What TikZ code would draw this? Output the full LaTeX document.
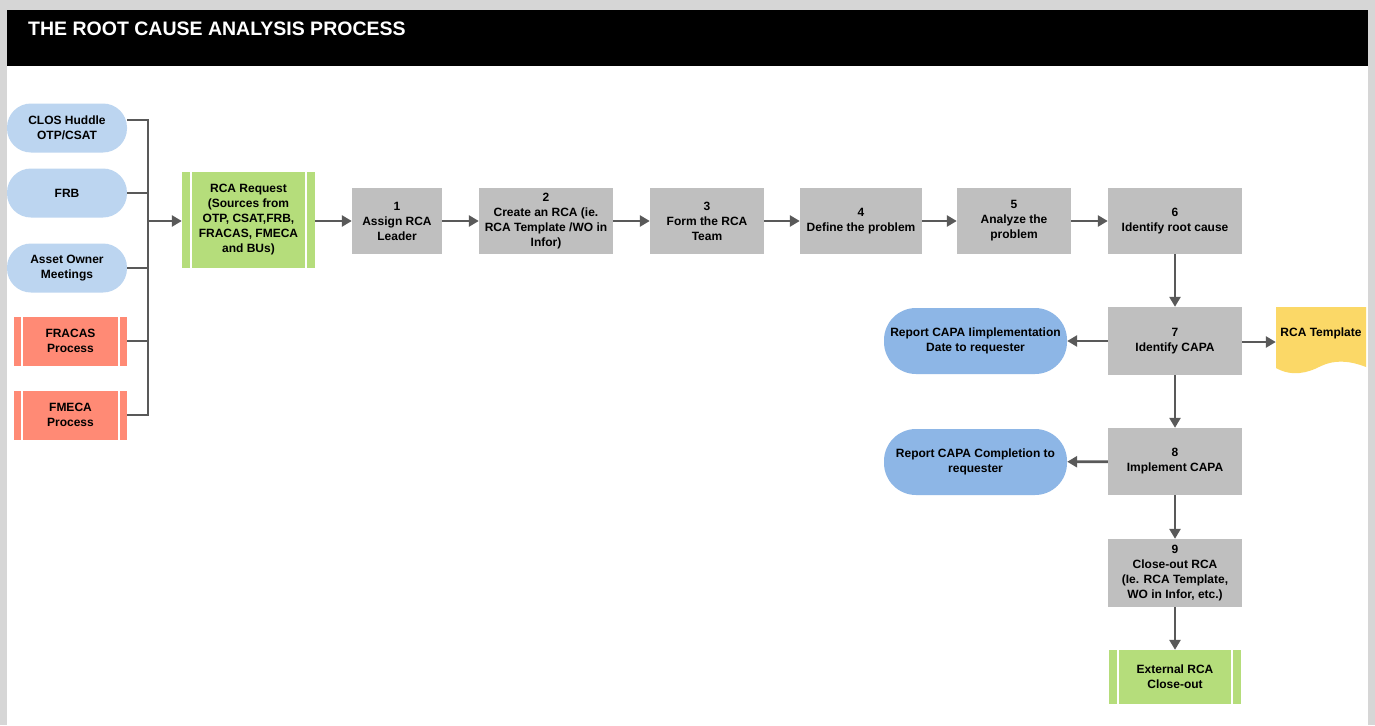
\documentclass[tikz,border=0pt]{standalone}
\usepackage{fontspec}
\setmainfont{Liberation Sans}
\usetikzlibrary{arrows.meta}
\definecolor{shadowgray}{HTML}{D6D6D6}
\definecolor{srcblue}{HTML}{BCD5F0}
\definecolor{srcred}{HTML}{FF8A75}
\definecolor{reqgreen}{HTML}{B5DD7B}
\definecolor{procgray}{HTML}{BFBFBF}
\definecolor{repblue}{HTML}{8DB6E6}
\definecolor{tmplyellow}{HTML}{FBD867}
\definecolor{conncol}{HTML}{595959}
\begin{document}
\begin{tikzpicture}[x=1pt,y=-1pt,
  base/.style={font=\bfseries\fontsize{12}{15}\selectfont, align=center, inner sep=0pt, text=black},
  src/.style={base, fill=srcblue, rounded corners=24pt, minimum width=120pt, minimum height=49pt},
  subproc/.style={base, minimum height=49pt,
    path picture={
      \draw[white, line width=2pt]
        ([xshift=#1]path picture bounding box.north west) -- ([xshift=#1]path picture bounding box.south west)
        ([xshift=-#1]path picture bounding box.north east) -- ([xshift=-#1]path picture bounding box.south east);}},
  proc/.style={base, fill=procgray, minimum height=66pt},
  report/.style={base, fill=repblue, rounded corners=32pt, minimum width=183pt, minimum height=66pt},
  conn/.style={draw=conncol, line width=2.8pt},
  arr/.style={conn, -{Triangle[length=10pt,width=11pt]}}
]
\useasboundingbox (0,0) rectangle (1375,725);
% page, shadow and header
\fill[shadowgray] (0,0) rectangle (1375,725);
\fill[white] (7,10) rectangle (1368,725);
\fill[black] (7,10) rectangle (1368,66);
\node[anchor=base west, inner sep=0pt, text=white, font=\bfseries\fontsize{19.5}{22}\selectfont] (title) at (28,36) {THE ROOT CAUSE ANALYSIS PROCESS};

% sources
\node[src] (clos) at (67,128) {CLOS Huddle\\OTP/CSAT};
\node[src] (frb) at (67,193) {FRB};
\node[src] (asset) at (67,268) {Asset Owner\\Meetings};
\node[subproc=8pt, fill=srcred, minimum width=113pt] (fracas) at (70.5,341) {FRACAS\\Process};
\node[subproc=8pt, fill=srcred, minimum width=113pt] (fmeca) at (70.5,415) {FMECA\\Process};

% RCA request
\node[subproc=9pt, fill=reqgreen, minimum width=133pt, minimum height=96pt] (req) at (248.5,220) {RCA Request\\(Sources from\\OTP, CSAT,FRB,\\FRACAS, FMECA\\and BUs)};

% process steps
\node[proc, minimum width=90pt] (s1) at (397,221) {1\\Assign RCA\\Leader};
\node[proc, minimum width=134pt] (s2) at (546,221) {2\\Create an RCA (ie.\\RCA Template /WO in\\Infor)};
\node[proc, minimum width=114pt] (s3) at (707,221) {3\\Form the RCA\\Team};
\node[proc, minimum width=122pt] (s4) at (861,221) {4\\Define the problem};
\node[proc, minimum width=114pt] (s5) at (1014,221) {5\\Analyze the\\problem};
\node[proc, minimum width=134pt] (s6) at (1175,221) {6\\Identify root cause};
\node[proc, minimum width=134pt, minimum height=68pt] (s7) at (1175,341) {7\\Identify CAPA};
\node[proc, minimum width=134pt, minimum height=67pt] (s8) at (1175,461.5) {8\\Implement CAPA};
\node[proc, minimum width=134pt, minimum height=68pt] (s9) at (1175,573) {9\\Close-out RCA\\(Ie. RCA Template,\\WO in Infor, etc.)};
\node[subproc=9pt, fill=reqgreen, minimum width=132pt, minimum height=54pt] (ext) at (1175,677) {External RCA\\Close-out};

% reports
\node[report] (rep1) at (975.5,341) {Report CAPA Iimplementation\\Date to requester};
\node[report] (rep2) at (975.5,462) {Report CAPA Completion to\\requester};

% RCA template (document shape)
\fill[tmplyellow] (1276,307) -- (1366,307) -- (1366,367)
  .. controls (1348,360) and (1334,360) .. (1321,366)
  .. controls (1308,373) and (1292,377) .. (1276,368) -- cycle;
\node[base, minimum width=90pt, minimum height=52pt] (tmpl) at (1321,333) {RCA Template};

% collector bus
\coordinate (bus) at (148,221);
\draw[conn] ([yshift=8pt]clos.east) -| (bus);
\draw[conn] (frb.east) -| (bus);
\draw[conn] (asset.east) -| (bus);
\draw[conn] (fracas.east) -| (bus);
\draw[conn] (fmeca.east) -| (bus);
\draw[arr] (bus) -- (req.west |- bus);

% main flow
\draw[arr] (req.east |- s1) -- (s1.west);
\draw[arr] (s1) -- (s2);
\draw[arr] (s2) -- (s3);
\draw[arr] (s3) -- (s4);
\draw[arr] (s4) -- (s5);
\draw[arr] (s5) -- (s6);
\draw[arr] (s6) -- (s7);
\draw[arr] (s7) -- (rep1);
\draw[arr] ([yshift=-1pt]s7.east) -- ([yshift=-1pt]s7.east -| tmpl.west);
\draw[arr] (s7) -- (s8);
\draw[arr] (s8) -- (rep2);
\draw[arr] (s8) -- (s9);
\draw[arr] (s9) -- (ext);
\end{tikzpicture}
\end{document}
